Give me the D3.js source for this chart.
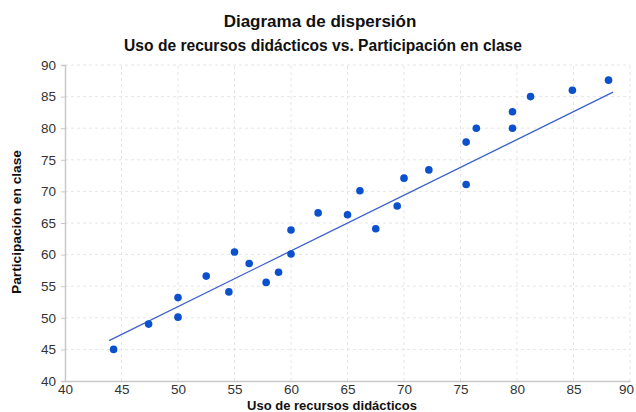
<!DOCTYPE html>
<html>
<head>
<meta charset="utf-8">
<script src="https://cdn.jsdelivr.net/npm/d3@7"></script>
<style>
  body { margin: 0; background: #fff; }
  text { font-family: "Liberation Sans", Arial, sans-serif; }
</style>
</head>
<body>
<div id="chart"></div>
<script>
// datos
const usoRecursos = [44.3, 47.4, 50, 50, 52.5, 54.5, 55, 56.3, 57.8, 58.9, 60, 60,
  62.4, 65, 66.1, 67.5, 69.4, 70, 72.2, 75.5, 75.5, 76.4, 79.6, 79.6, 81.2, 84.9, 88.1];
const participacion = [45, 49, 53.2, 50.1, 56.6, 54.1, 60.4, 58.6, 55.6, 57.2, 60.1, 63.9,
  66.6, 66.3, 70.1, 64.1, 67.7, 72.1, 73.4, 77.8, 71.1, 80, 80, 82.6, 85, 86, 87.6];
// recta de tendencia (extremos)
const tendenciaX = [43.9, 88.5];
const tendenciaY = [46.4, 85.7];
const ticksX = [40, 45, 50, 55, 60, 65, 70, 75, 80, 85, 90];
const ticksY = [40, 45, 50, 55, 60, 65, 70, 75, 80, 85, 90];

const width = 636, height = 412;
const margin = { top: 65, right: 6, bottom: 31, left: 65 };

const svg = d3.select("#chart").append("svg")
    .attr("width", width)
    .attr("height", height);

const x = d3.scaleLinear().domain([40, 90]).range([margin.left, width - margin.right]);
const y = d3.scaleLinear().domain([40, 90]).range([height - margin.bottom, margin.top]);

// rejilla
svg.append("g")
    .selectAll("line")
    .data(ticksX.slice(1))
    .enter().append("line")
    .attr("x1", d => x(d)).attr("x2", d => x(d))
    .attr("y1", y(40)).attr("y2", y(90))
    .style("stroke", "#e6e6e6")
    .style("stroke-dasharray", "3,3");

svg.append("g")
    .selectAll("line")
    .data(ticksY.slice(1))
    .enter().append("line")
    .attr("x1", x(40)).attr("x2", x(90))
    .attr("y1", d => y(d)).attr("y2", d => y(d))
    .style("stroke", "#e6e6e6")
    .style("stroke-dasharray", "3,3");

// ejes
const ejeX = svg.append("g")
    .attr("transform", `translate(0,${y(40)})`)
    .call(d3.axisBottom(x).tickValues(ticksX).tickSize(0).tickPadding(3));
const ejeY = svg.append("g")
    .attr("transform", `translate(${x(40)},0)`)
    .call(d3.axisLeft(y).tickValues(ticksY).tickSize(4).tickPadding(5));

[ejeX, ejeY].forEach(g => {
  g.select(".domain").style("stroke", "#c8c8c8").style("stroke-width", 1.5);
  g.selectAll(".tick line").style("stroke", "#c8c8c8");
  g.selectAll(".tick text")
    .style("font-size", "13.5px")
    .style("fill", "#333")
    .style("font-family", "'Liberation Sans', Arial, sans-serif");
});
// el ultimo rotulo queda dentro del lienzo
ejeX.selectAll(".tick text").filter(d => d === 90).attr("dx", "-4");

// tendencia
svg.append("line")
    .attr("x1", x(tendenciaX[0])).attr("y1", y(tendenciaY[0]))
    .attr("x2", x(tendenciaX[1])).attr("y2", y(tendenciaY[1]))
    .style("stroke", "#3a62cc")
    .style("stroke-width", 1.3);

// puntos
svg.append("g")
    .selectAll("circle")
    .data(usoRecursos)
    .enter().append("circle")
    .attr("cx", d => x(d))
    .attr("cy", (d, i) => y(participacion[i]))
    .attr("r", 3.8)
    .style("fill", "#0b50cc");

// textos
svg.append("text")
    .attr("x", 320).attr("y", 27)
    .attr("text-anchor", "middle")
    .style("font-size", "17px").style("font-weight", "bold").style("fill", "#111")
    .text("Diagrama de dispersión");

svg.append("text")
    .attr("x", 323).attr("y", 51)
    .attr("text-anchor", "middle")
    .style("font-size", "15.6px").style("font-weight", "bold").style("fill", "#111")
    .text("Uso de recursos didácticos vs. Participación en clase");

svg.append("text")
    .attr("x", 332).attr("y", 410)
    .attr("text-anchor", "middle")
    .style("font-size", "13px").style("font-weight", "bold").style("fill", "#111")
    .text("Uso de recursos didácticos");

svg.append("text")
    .attr("transform", "translate(21,222) rotate(-90)")
    .attr("text-anchor", "middle")
    .style("font-size", "13.7px").style("font-weight", "bold").style("fill", "#111")
    .text("Participación en clase");
</script>
</body>
</html>
